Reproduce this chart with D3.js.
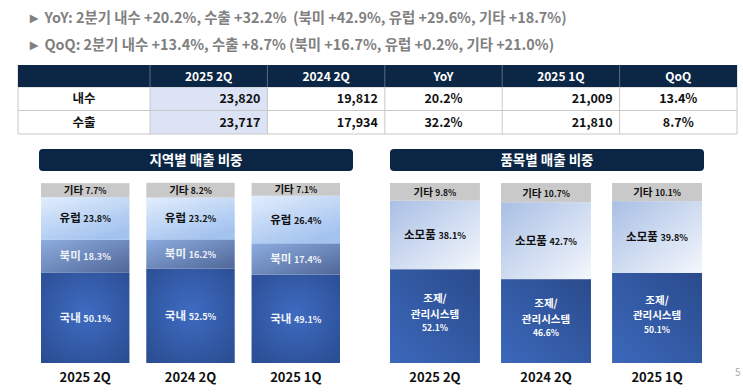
<!DOCTYPE html>
<html>
<head>
<meta charset="utf-8">
<script src="https://cdn.jsdelivr.net/npm/d3@7"></script>
<style>
   body { margin: 0; background: #fff; }
   svg { display: block; font-family: "Noto Sans CJK KR", "Noto Sans", sans-serif; }
</style>
</head>
<body>
<svg></svg>
<script>
var width = 743;
var height = 392;

// summary lines
var notes = [
   '► YoY: 2분기 내수 +20.2%, 수출 +32.2%  (북미 +42.9%, 유럽 +29.6%, 기타 +18.7%)',
   '► QoQ: 2분기 내수 +13.4%, 수출 +8.7% (북미 +16.7%, 유럽 +0.2%, 기타 +21.0%)'
];

// table
var tableCols = ['2025 2Q', '2024 2Q', 'YoY', '2025 1Q', 'QoQ'];
var tableRows = ['내수', '수출'];
var sales2025q2 = [23820, 23717];
var sales2024q2 = [19812, 17934];
var yoyGrowth = [20.2, 32.2];
var sales2025q1 = [21009, 21810];
var qoqGrowth = [13.4, 8.7];

// bars
var periods = ['2025 2Q', '2024 2Q', '2025 1Q'];

var regionKeys = ['국내', '북미', '유럽', '기타'];
var regionDomestic = [50.1, 52.5, 49.1];
var regionNorthAmerica = [18.3, 16.2, 17.4];
var regionEurope = [23.8, 23.2, 26.4];
var regionOther = [7.7, 8.2, 7.1];

var productKeys = ['조제/관리시스템', '소모품', '기타'];
var productSystem = [52.1, 46.6, 50.1];
var productConsumable = [38.1, 42.7, 39.8];
var productOther = [9.8, 10.7, 10.1];

var svg = d3.select('svg')
   .attr('width', width)
   .attr('height', height)
   .attr('viewBox', '0 0 ' + width + ' ' + height)
;

// gradients
var defs = svg.append('defs');

function linearGrad(id, x1, y1, x2, y2, c1, c2) {
   var g = defs.append('linearGradient')
      .attr('id', id)
      .attr('x1', x1).attr('y1', y1).attr('x2', x2).attr('y2', y2);
   g.append('stop').attr('offset', '0%').attr('stop-color', c1);
   g.append('stop').attr('offset', '100%').attr('stop-color', c2);
}

linearGrad('gEurope', '0%', '0%', '60%', '100%', '#e2edfc', '#a3c3ef');
linearGrad('gNorth', '0%', '0%', '100%', '100%', '#8eace0', '#4f6798');
linearGrad('gConsum', '0%', '0%', '100%', '100%', '#a9bfe5', '#f4f7fc');
linearGrad('gSystem', '0%', '100%', '100%', '0%', '#3c68bb', '#2a4b8c');

var rg = defs.append('radialGradient').attr('id', 'gDomestic').attr('cx', '50%').attr('cy', '45%').attr('r', '70%');
rg.append('stop').attr('offset', '0%').attr('stop-color', '#3e6cc2');
rg.append('stop').attr('offset', '100%').attr('stop-color', '#2b4d92');

// notes
svg.selectAll('text.note')
   .data(notes)
   .enter()
   .append('text')
   .attr('class', 'note')
   .attr('x', 27)
   .attr('y', function(d, i) { return 23 + i * 27; })
   .style('font-size', '14.4px')
   .style('font-weight', 'bold')
   .style('fill', '#808080')
   .style('white-space', 'pre')
   .text(function(d) { return d; })
;

// table
var tx = d3.scaleBand().domain(tableCols).range([150, 737]);
var tableTop = 65;
var headH = 22;
var rowH = 23.5;

var t = svg.append('g');

t.append('rect')
   .attr('x', tx('2025 2Q')).attr('y', tableTop + headH)
   .attr('width', tx.bandwidth()).attr('height', rowH * 2)
   .style('fill', '#dce3f4')
;

// grid lines
var hLines = [tableTop + headH, tableTop + headH + rowH, tableTop + headH + rowH * 2];
t.selectAll('line.h')
   .data(hLines)
   .enter()
   .append('line')
   .attr('x1', 18).attr('x2', 737)
   .attr('y1', function(d) { return d; }).attr('y2', function(d) { return d; })
   .style('stroke', '#c8c8c8')
;

var vLines = [18].concat(tableCols.map(function(d) { return tx(d); })).concat([737]);
t.selectAll('line.v')
   .data(vLines)
   .enter()
   .append('line')
   .attr('x1', function(d) { return d; }).attr('x2', function(d) { return d; })
   .attr('y1', tableTop)
   .attr('y2', tableTop + headH + rowH * 2)
   .style('stroke', '#c8c8c8')
;

t.append('rect')
   .attr('x', 18).attr('y', tableTop)
   .attr('width', 737 - 18).attr('height', headH)
   .style('fill', '#0c2646')
;
t.selectAll('line.hv')
   .data(tableCols)
   .enter()
   .append('line')
   .attr('x1', function(d) { return tx(d); }).attr('x2', function(d) { return tx(d); })
   .attr('y1', tableTop).attr('y2', tableTop + headH)
   .style('stroke', '#5a6b80')
;
t.selectAll('text.head')
   .data(tableCols)
   .enter()
   .append('text')
   .attr('x', function(d) { return tx(d) + tx.bandwidth() / 2; })
   .attr('y', tableTop + headH / 2 + 4.5)
   .attr('text-anchor', 'middle')
   .style('fill', '#fff')
   .style('font-size', '12px')
   .style('font-weight', 'bold')
   .text(function(d) { return d; })
;

var fmtNum = d3.format(',');
var fmtPct = function(v) { return d3.format('.1f')(v) + '%'; };

var cells = [];
tableRows.forEach(function(r, i) {
   cells.push({ row: i, x: 84, anchor: 'middle', text: r });
   cells.push({ row: i, col: '2025 2Q', anchor: 'end', text: fmtNum(sales2025q2[i]) });
   cells.push({ row: i, col: '2024 2Q', anchor: 'end', text: fmtNum(sales2024q2[i]) });
   cells.push({ row: i, col: 'YoY', anchor: 'middle', text: fmtPct(yoyGrowth[i]) });
   cells.push({ row: i, col: '2025 1Q', anchor: 'end', text: fmtNum(sales2025q1[i]) });
   cells.push({ row: i, col: 'QoQ', anchor: 'middle', text: fmtPct(qoqGrowth[i]) });
});

t.selectAll('text.cell')
   .data(cells)
   .enter()
   .append('text')
   .attr('x', function(d) {
      if (!d.col) return d.x;
      if (d.anchor == 'end') return tx(d.col) + tx.bandwidth() - 7;
      return tx(d.col) + tx.bandwidth() / 2;
   })
   .attr('y', function(d) { return tableTop + headH + rowH * d.row + rowH / 2 + 4.5; })
   .attr('text-anchor', function(d) { return d.anchor; })
   .style('font-size', '12.5px')
   .style('font-weight', 'bold')
   .style('fill', '#111')
   .text(function(d) { return d.text; })
;

// stacked bars
var y = d3.scaleLinear().domain([0, 100]).range([363, 183]);

function drawPanel(opt) {
   var g = svg.append('g');

   g.append('rect')
      .attr('x', opt.titleX[0]).attr('y', 149)
      .attr('width', opt.titleX[1] - opt.titleX[0]).attr('height', 22)
      .attr('rx', 4)
      .style('fill', '#0b2545')
   ;
   g.append('text')
      .attr('x', (opt.titleX[0] + opt.titleX[1]) / 2)
      .attr('y', 165)
      .attr('text-anchor', 'middle')
      .style('fill', '#fff')
      .style('font-size', '13.5px')
      .style('font-weight', 'bold')
      .text(opt.title)
   ;

   var x = d3.scaleBand().domain(periods).range(opt.range).paddingInner(opt.pad);

   var rows = periods.map(function(p, i) {
      var o = { period: p };
      opt.keys.forEach(function(k, j) { o[k] = opt.values[j][i]; });
      return o;
   });

   var series = d3.stack().keys(opt.keys)(rows);

   var layer = g.selectAll('g.layer')
      .data(series)
      .enter()
      .append('g')
   ;

   layer.selectAll('rect')
      .data(function(s) { return s.map(function(d) { return { key: s.key, d: d }; }); })
      .enter()
      .append('rect')
      .attr('x', function(d) { return x(d.d.data.period); })
      .attr('width', x.bandwidth())
      .attr('y', function(d) { return y(d.d[1]); })
      .attr('height', function(d) { return y(d.d[0]) - y(d.d[1]); })
      .style('fill', function(d) { return opt.fills[d.key]; })
   ;

   layer.selectAll('text')
      .data(function(s) { return s.map(function(d) { return { key: s.key, d: d }; }); })
      .enter()
      .each(function(d) {
         var sel = d3.select(this);
         var cx = x(d.d.data.period) + x.bandwidth() / 2;
         var cy = (y(d.d[0]) + y(d.d[1])) / 2;
         var pct = d3.format('.1f')(d.d.data[d.key]) + '%';
         var small = d.key == '기타';
         var fill = opt.textFill[d.key];
         var lines;
         if (d.key == '조제/관리시스템') {
            lines = [
               { dy: -14, size: 10.5, parts: ['조제/'] },
               { dy: 1.5, size: 10.5, parts: ['관리시스템'] },
               { dy: 15, size: 8.5, parts: [pct] }
            ];
            lines.forEach(function(l) {
               sel.append('text')
                  .attr('x', cx).attr('y', cy + l.dy)
                  .attr('text-anchor', 'middle')
                  .style('font-weight', 'bold')
                  .style('font-size', l.size + 'px')
                  .style('fill', fill)
                  .text(l.parts[0]);
            });
         } else {
            var el = sel.append('text')
               .attr('x', cx).attr('y', cy + 4)
               .attr('text-anchor', 'middle')
               .style('font-weight', 'bold')
               .style('fill', fill);
            el.append('tspan').style('font-size', small ? '10.5px' : '11.5px').text(d.key + ' ');
            el.append('tspan').style('font-size', small ? '8.5px' : '9px').text(pct);
         }
      })
   ;

   g.selectAll('text.period')
      .data(periods)
      .enter()
      .append('text')
      .attr('x', function(d) { return x(d) + x.bandwidth() / 2; })
      .attr('y', 382)
      .attr('text-anchor', 'middle')
      .style('font-size', '13px')
      .style('font-weight', 'bold')
      .style('fill', '#111')
      .text(function(d) { return d; })
   ;
}

drawPanel({
   title: '지역별 매출 비중',
   titleX: [39, 353],
   range: [41, 340],
   pad: 0.16,
   keys: regionKeys,
   values: [regionDomestic, regionNorthAmerica, regionEurope, regionOther],
   fills: { '국내': 'url(#gDomestic)', '북미': 'url(#gNorth)', '유럽': 'url(#gEurope)', '기타': '#c9c9c9' },
   textFill: { '국내': '#f0f3fa', '북미': '#eef1f8', '유럽': '#111', '기타': '#111' }
});

drawPanel({
   title: '품목별 매출 비중',
   titleX: [390, 704],
   range: [390, 702],
   pad: 0.19,
   keys: productKeys,
   values: [productSystem, productConsumable, productOther],
   fills: { '조제/관리시스템': 'url(#gSystem)', '소모품': 'url(#gConsum)', '기타': '#c9c9c9' },
   textFill: { '조제/관리시스템': '#fff', '소모품': '#111', '기타': '#111' }
});

// page number
svg.append('text')
   .attr('x', 735).attr('y', 376)
   .style('font-size', '10px')
   .style('fill', '#aaa')
   .text('5')
;
</script>
</body>
</html>
